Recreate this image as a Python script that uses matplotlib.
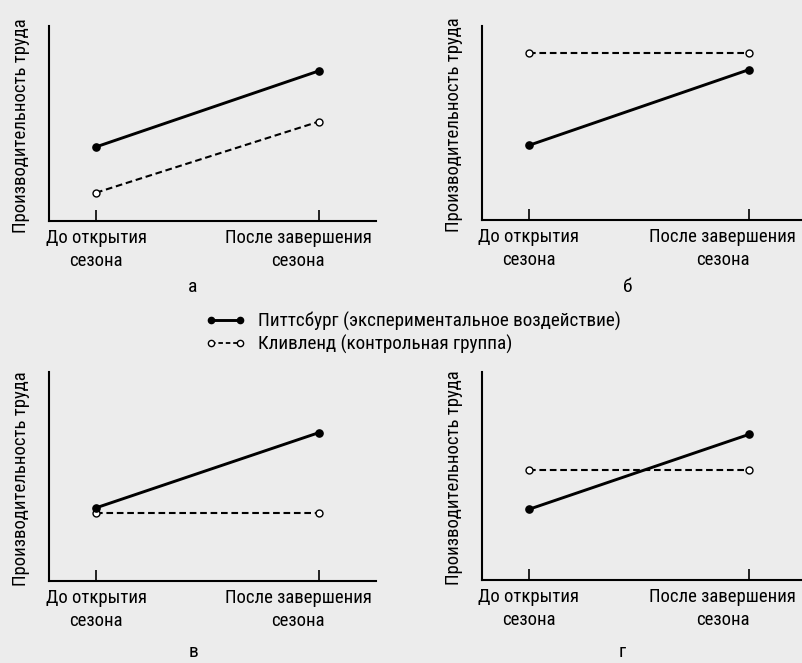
import matplotlib
matplotlib.use("Agg")
import matplotlib.pyplot as plt
from matplotlib.lines import Line2D

FONTS = ['Roboto Condensed', 'PT Sans Narrow', 'Liberation Sans', 'DejaVu Sans']
plt.rcParams['font.family'] = FONTS

periods = ["До открытия\nсезона", "После завершения\nсезона"]
panel_labels = ["а", "б", "в", "г"]
series_names = ["Питтсбург (экспериментальное воздействие)", "Кливленд (контрольная группа)"]
ylabel_text = "Производительность труда"

pittsburgh = [
    [3.8, 7.7],
    [3.85, 7.75],
    [3.5, 7.1],
    [3.4, 7.0],
]
cleveland = [
    [1.45, 5.1],
    [8.6, 8.6],
    [3.25, 3.25],
    [5.3, 5.3],
]

W, H = 803, 663
fig = plt.figure(figsize=(W / 100, H / 100), dpi=100)
bg = '#ececec'
fig.patch.set_facecolor(bg)

# axes rectangles in pixels: left, top, right, bottom
rects = [
    (49, 26, 376, 221),
    (482, 26, 803, 220),
    (49, 372, 376, 581),
    (482, 372, 803, 580),
]
label_pos = [(193, 287), (628, 287), (194, 652), (622, 652)]

FS = 13.5
tick_texts = []
ylabels = []
for i, (l, t, r, b) in enumerate(rects):
    ax = fig.add_axes([l / W, 1 - b / H, (r - l) / W, (b - t) / H])
    ax.set_facecolor('none')
    x = [0, 1]
    ax.plot(x, cleveland[i], color='black', lw=1.5, ls=(0, (3.2, 1.8)),
            marker='o', ms=5, mfc='white', mec='black', mew=1.0, zorder=3)
    ax.plot(x, pittsburgh[i], color='black', lw=2.1, ls='-',
            marker='o', ms=5.2, mfc='black', mec='black', zorder=4)
    px_per_unit = 223 if r < 500 else 220
    ax.set_xlim(-47 / px_per_unit, (r - l - 47) / px_per_unit)
    ax.set_ylim(0, 10)
    ax.set_xticks(x)
    ax.set_xticklabels([])
    # period labels (the second one sits a little left of its tick, as in the reference)
    shifts = [0, -15 if r < 500 else -19]
    for xi, lab, dx in zip(x, periods, shifts):
        tt = ax.annotate(lab, xy=(xi, 0), xycoords=ax.get_xaxis_transform(),
                         xytext=(dx, -6), textcoords='offset points',
                         ha='center', va='top', multialignment='center',
                         fontsize=FS, linespacing=1.3)
        tick_texts.append(tt)
    ax.set_yticks([])
    for s in ['top', 'right']:
        ax.spines[s].set_visible(False)
    for s in ['left', 'bottom']:
        ax.spines[s].set_linewidth(1.5)
        ax.spines[s].set_color('black')
    ax.tick_params(axis='x', direction='in', length=8, width=1.2, colors='black')
    yl = ax.text(-28 / (r - l), 0.49, ylabel_text, rotation=90, transform=ax.transAxes,
                 ha='center', va='center', fontsize=FS)
    ylabels.append(yl)
    fig.text(label_pos[i][0] / W, 1 - label_pos[i][1] / H, panel_labels[i],
             ha='center', va='center', fontsize=14)

handles = [
    Line2D([0], [0], color='black', lw=2.1, marker='o', ms=4.5, mfc='black', mec='black'),
    Line2D([0], [0], color='black', lw=1.3, ls=(0, (2.5, 1.6)), marker='o', ms=4.5,
           mfc='white', mec='black', mew=1.0),
]
leg = fig.legend(handles, series_names, loc='center left', bbox_to_anchor=(205 / W, 1 - 332.5 / H),
                 frameon=False, fontsize=13.8, handlelength=2.1, handletextpad=0.65,
                 labelspacing=0.2, numpoints=2, borderpad=0, borderaxespad=0)

# keep the long texts within the widths seen in the reference, whatever font is found
fig.canvas.draw()
renderer = fig.canvas.get_renderer()
w_tick = tick_texts[1].get_window_extent(renderer).width
scale = min(1.0, 152 / w_tick)
if scale < 1.0:
    for t in tick_texts:
        t.set_fontsize(FS * scale)
h_yl = ylabels[0].get_window_extent(renderer).height
s2 = min(1.0, 216 / h_yl)
if s2 < 1.0:
    for t in ylabels:
        t.set_fontsize(FS * s2)
w_leg = leg.get_texts()[0].get_window_extent(renderer).width
s3 = min(1.0, 364 / w_leg)
if s3 < 1.0:
    for t in leg.get_texts():
        t.set_fontsize(13.8 * s3)

fig.savefig('out.png', dpi=100, facecolor=bg)
